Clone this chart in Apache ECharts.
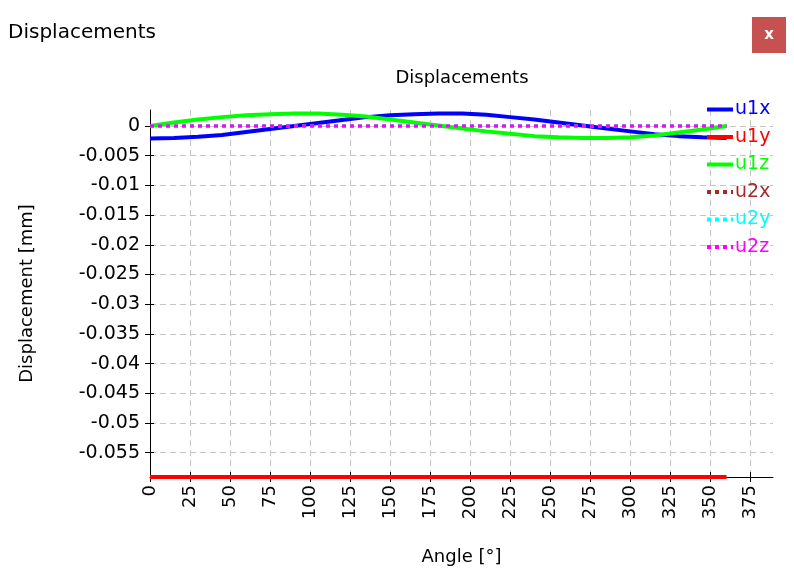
<!DOCTYPE html>
<html>
<head>
<meta charset="utf-8">
<script src="https://cdn.jsdelivr.net/npm/echarts@6/dist/echarts.min.js"></script>
<style>
html,body{margin:0;padding:0;background:#fff;}
#chart{width:794px;height:585px;}
</style>
</head>
<body>
<div id="chart"></div>
<script>
// ---- data ----
const angles = [0,15,30,45,60,75,90,105,120,135,150,165,180,195,210,225,240,255,270,285,300,315,330,345,360];
const u1x = [-0.0021,-0.0020,-0.0018,-0.0015,-0.0010,-0.0005,0.0000,0.0005,0.0010,0.0015,0.0018,0.0020,0.0021,0.0021,0.0019,0.0015,0.0011,0.0006,0.0001,-0.0004,-0.0009,-0.0014,-0.0017,-0.0019,-0.0020];
const u1y = [-0.0591,-0.0591,-0.0591,-0.0591,-0.0591,-0.0591,-0.0591,-0.0591,-0.0591,-0.0591,-0.0591,-0.0591,-0.0591,-0.0591,-0.0591,-0.0591,-0.0591,-0.0591,-0.0591,-0.0591,-0.0591,-0.0591,-0.0591,-0.0591,-0.0591];
const u1z = [0.0000,0.0006,0.0011,0.0015,0.0018,0.0020,0.0021,0.0021,0.0019,0.0016,0.0011,0.0006,0.0001,-0.0004,-0.0009,-0.0013,-0.0017,-0.0019,-0.0020,-0.0020,-0.0019,-0.0016,-0.0011,-0.0006,0.0000];
const u2x = [0,0,0,0,0,0,0,0,0,0,0,0,0,0,0,0,0,0,0,0,0,0,0,0,0];
const u2y = [0,0,0,0,0,0,0,0,0,0,0,0,0,0,0,0,0,0,0,0,0,0,0,0,0];
const u2z = [0,0,0,0,0,0,0,0,0,0,0,0,0,0,0,0,0,0,0,0,0,0,0,0,0];
const seriesNames = ['u1x','u1y','u1z','u2x','u2y','u2z'];
const seriesColors = ['#0000ff','#ff0000','#00ff00','#a52a2a','#00ffff','#ff00ff'];
const xTicks = [0,25,50,75,100,125,150,175,200,225,250,275,300,325,350,375];
const yTicks = [0,-0.005,-0.01,-0.015,-0.02,-0.025,-0.03,-0.035,-0.04,-0.045,-0.05,-0.055];
const xMin = 0, xMax = 389;
const yMin = -0.0591, yMax = 0.0027;

const FONT = 'DejaVu Sans';
const pairs = (ys) => angles.map((a,i)=>[a, ys[i]]);
const values = [u1x,u1y,u1z,u2x,u2y,u2z];
const dotted = [false,false,false,true,true,true];
const order = [1,0,2,3,4,5];

const gridLine = {show:true, lineStyle:{color:'#c4c4c4', type:[6,4]}};
const chart = echarts.init(document.getElementById('chart'), null, {renderer:'canvas'});
chart.setOption({
  animation:false,
  backgroundColor:'#ffffff',
  title:[
    {text:'Displacements', left:8, top:23, padding:0, textStyle:{fontFamily:FONT, fontSize:20, fontWeight:'normal', color:'#000'}},
    {text:'Displacements', left:462, textAlign:'center', top:69, padding:0, textStyle:{fontFamily:FONT, fontSize:18, fontWeight:'normal', color:'#000'}}
  ],
  graphic:[
    {type:'rect', shape:{x:752,y:17,width:34,height:36}, style:{fill:'#c75050'}},
    {type:'text', x:769, y:35, style:{text:'x', fill:'#fff', font:'bold 15px "DejaVu Sans"', textAlign:'center', textVerticalAlign:'middle'}}
  ],
  legend:{
    orient:'vertical', left:705, top:100, itemWidth:26, itemHeight:12, itemGap:8.5,
    padding:0,
    itemStyle:{opacity:0},
    lineStyle:{width:4},
    data: seriesNames.map((n,i)=>({name:n, textStyle:{color:seriesColors[i]}})),
    textStyle:{fontFamily:FONT, fontSize:19, padding:[0,0,0,-3]}
  },
  grid:{left:150, right:21, top:110, bottom:108, containLabel:false},
  xAxis:[{
    type:'value', min:xMin, max:xMax,
    name:'Angle [°]', nameLocation:'middle', nameGap:71,
    nameTextStyle:{fontFamily:FONT, fontSize:18, color:'#000'},
    axisLine:{onZero:false, lineStyle:{color:'#000', width:1}},
    axisTick:{show:true, inside:false, length:5, customValues:xTicks, lineStyle:{color:'#000'}},
    axisLabel:{rotate:90, customValues:xTicks, fontFamily:FONT, fontSize:18, color:'#000', margin:8},
    splitLine:gridLine
  },{
    type:'value', min:xMin, max:xMax, position:'bottom', gridIndex:0,
    axisLine:{show:false, onZero:false},
    axisTick:{show:true, inside:true, length:5, customValues:xTicks, lineStyle:{color:'#000'}},
    axisLabel:{show:false}, splitLine:{show:false}
  }],
  yAxis:[{
    type:'value', min:yMin, max:yMax,
    name:'Displacement [mm]', nameLocation:'middle', nameGap:114,
    nameTextStyle:{fontFamily:FONT, fontSize:18, color:'#000'},
    axisLine:{onZero:false, lineStyle:{color:'#000', width:1}},
    axisTick:{show:true, inside:false, length:5, customValues:yTicks, lineStyle:{color:'#000'}},
    axisLabel:{customValues:yTicks, fontFamily:FONT, fontSize:19, color:'#000', margin:10,
      formatter:(v)=> String(parseFloat(v.toFixed(4)))},
    splitLine:gridLine
  },{
    type:'value', min:yMin, max:yMax, position:'left', gridIndex:0,
    axisLine:{show:false, onZero:false},
    axisTick:{show:true, inside:true, length:4, customValues:yTicks, lineStyle:{color:'#000'}},
    axisLabel:{show:false}, splitLine:{show:false}
  }],
  series: order.map(i=>({
    name:seriesNames[i], type:'line', data:pairs(values[i]),
    symbol:'none', clip:false, z: 2+i,
    lineStyle:{color:seriesColors[i], width:dotted[i]?3:4, type: dotted[i] ? [4,4] : 'solid', cap:'butt'},
    itemStyle:{color:seriesColors[i]}
  }))
});
</script>
</body>
</html>
